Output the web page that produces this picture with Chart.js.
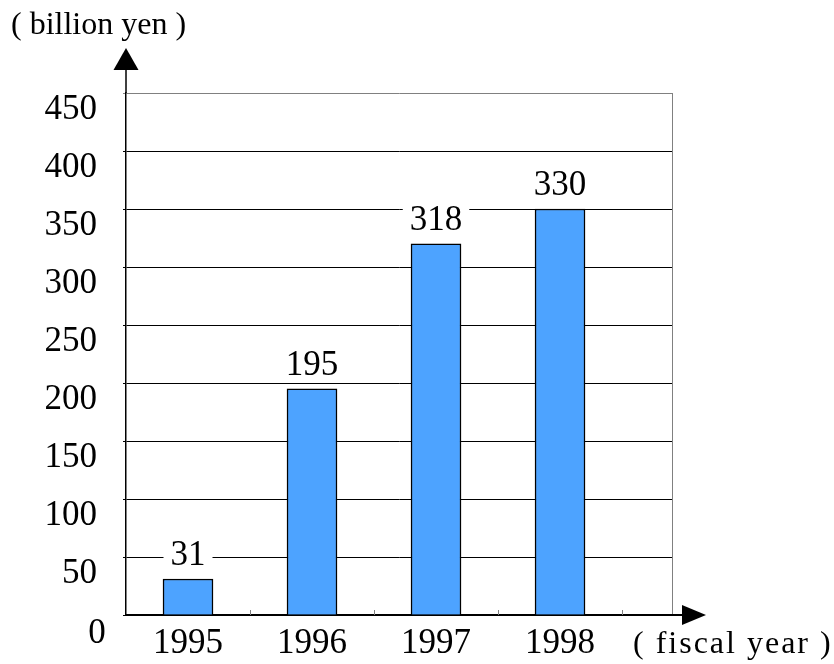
<!DOCTYPE html>
<html>
<head>
    <meta charset="utf-8">
    <script src="https://cdn.jsdelivr.net/npm/chart.js"></script>
    <title>billion yen</title>
    <style>
        body { margin: 0; background: #ffffff; }
        #wrap { width: 834px; height: 664px; position: relative; }
    </style>
</head>
<body>
<div id="wrap"><canvas id="myChart"></canvas></div>
<script>
    // data
    var years = [1995, 1996, 1997, 1998];
    var amounts = [31, 195, 320, 350];          // bar heights as drawn
    var amountLabels = ['31', '195', '318', '330']; // numbers printed above the bars
    var yTicks = [0, 50, 100, 150, 200, 250, 300, 350, 400, 450];
    var yUnit = '( billion yen )';
    var xUnit = '( fiscal year )';

    var serif = '"Liberation Serif", "Times New Roman", serif';
    var numFont = { family: serif, size: 35 };

    // arrows, frame, small ticks and the labels above the bars
    var decorations = {
        id: 'decorations',
        afterDraw: function (chart) {
            var c = chart.ctx;
            var area = chart.chartArea;
            var xs = chart.scales.x;
            var ys = chart.scales.y;
            c.save();

            // right frame line
            c.strokeStyle = '#808080';
            c.lineWidth = 1;
            c.beginPath();
            c.moveTo(area.right + 0.5, area.top);
            c.lineTo(area.right + 0.5, area.bottom);
            c.stroke();

            // small inward ticks between the years
            years.forEach(function (y) {
                var px = Math.round(xs.getPixelForValue(y + 0.5)) + 0.5;
                c.beginPath();
                c.moveTo(px, area.bottom);
                c.lineTo(px, area.bottom - 5);
                c.stroke();
            });

            // y axis arrow
            c.strokeStyle = '#000';
            c.fillStyle = '#000';
            c.lineWidth = 1.5;
            c.beginPath();
            c.moveTo(area.left, area.top);
            c.lineTo(area.left, 70);
            c.stroke();
            c.beginPath();
            c.moveTo(area.left, 48);
            c.lineTo(area.left - 12.5, 70);
            c.lineTo(area.left + 12.5, 70);
            c.closePath();
            c.fill();

            // x axis arrow
            c.lineWidth = 2;
            c.beginPath();
            c.moveTo(area.right, area.bottom);
            c.lineTo(683, area.bottom);
            c.stroke();
            c.beginPath();
            c.moveTo(706, area.bottom);
            c.lineTo(682, area.bottom - 10);
            c.lineTo(682, area.bottom + 10);
            c.closePath();
            c.fill();

            // unit texts
            c.font = '32px ' + serif;
            c.textBaseline = 'middle';
            c.textAlign = 'left';
            c.fillText(yUnit, 11, 26);
            c.letterSpacing = '2px'; // the original sets this one looser
            c.fillText(xUnit, 633, 645);
            c.letterSpacing = '0px';

            // zero label sits a bit lower and to the right
            c.font = '35px ' + serif;
            c.textAlign = 'center';
            c.fillText('0', 97, ys.getPixelForValue(0) + 19);

            // labels above bars, on a white patch over the grid
            amounts.forEach(function (v, i) {
                var px = xs.getPixelForValue(years[i]);
                var py = ys.getPixelForValue(v) - 24;
                var w = c.measureText(amountLabels[i]).width + 14;
                c.fillStyle = '#fff';
                c.fillRect(px - w / 2, py - 15, w, 30);
                c.fillStyle = '#000';
                c.fillText(amountLabels[i], px, py + 1);
            });
            c.restore();
        }
    };

    var ctx = document.getElementById('myChart').getContext('2d');
    var myChart = new Chart(ctx, {
        type: 'bar',
        data: {
            datasets: [{
                data: years.map(function (y, i) { return { x: y, y: amounts[i] }; }),
                backgroundColor: '#4da3ff',
                borderColor: '#000',
                borderWidth: 1.5,
                barThickness: 50
            }]
        },
        options: {
            responsive: true,
            maintainAspectRatio: false,
            animation: false,
            layout: { padding: { top: 93, right: 162, left: 0, bottom: 0 } },
            plugins: { legend: { display: false }, tooltip: { enabled: false } },
            scales: {
                x: {
                    type: 'linear',
                    offset: false,
                    min: 1994.5,
                    max: 1998.903,
                    afterBuildTicks: function (scale) {
                        scale.ticks = years.map(function (y) { return { value: y }; });
                    },
                    afterFit: function (scale) { scale.height = 49; },
                    grid: { display: false, drawTicks: false },
                    border: { display: true, color: '#000', width: 2 },
                    ticks: {
                        font: numFont,
                        color: '#000',
                        padding: 8,
                        maxRotation: 0,
                        callback: function (v) { return String(v); }
                    }
                },
                y: {
                    min: 0,
                    max: 450,
                    afterBuildTicks: function (scale) {
                        scale.ticks = yTicks.map(function (v) { return { value: v }; });
                    },
                    afterFit: function (scale) { scale.width = 126; },
                    grid: {
                        color: function (c) { return c.tick && c.tick.value === 450 ? '#808080' : '#000'; },
                        lineWidth: 1,
                        tickLength: 3
                    },
                    border: { display: true, color: '#000', width: 1.5 },
                    ticks: {
                        font: numFont,
                        color: '#000',
                        padding: 26,
                        labelOffset: 17,
                        callback: function (v) { return v === 0 ? '' : String(v); }
                    }
                }
            }
        },
        plugins: [decorations]
    });
</script>
</body>
</html>
